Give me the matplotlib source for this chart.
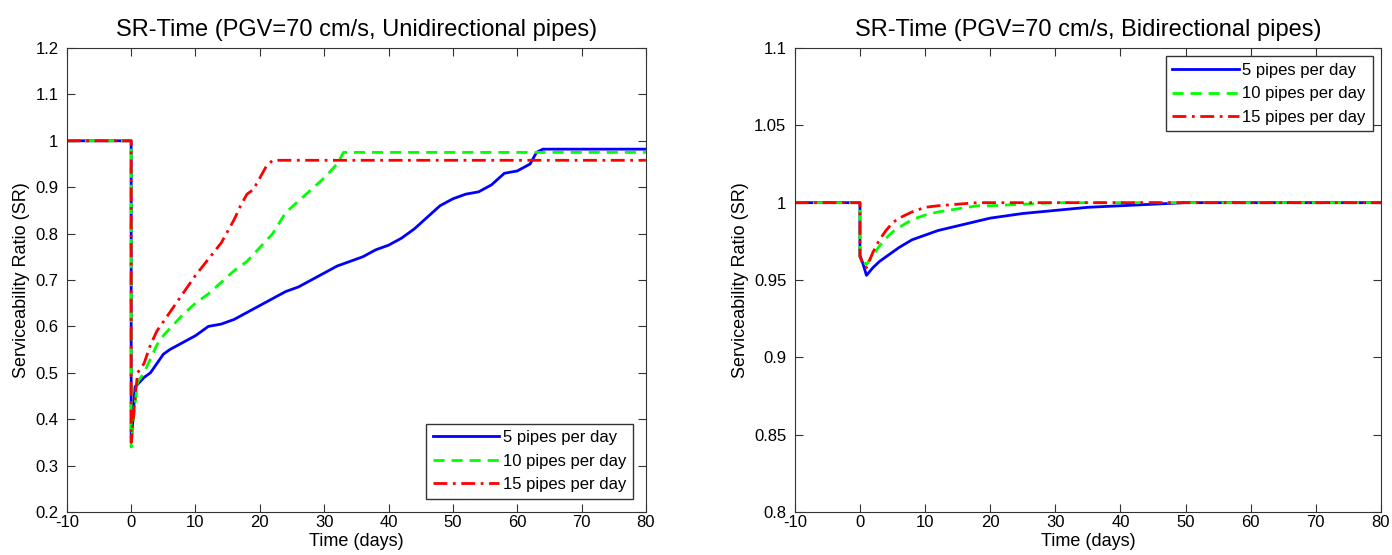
import matplotlib.pyplot as plt

plt.rcParams['font.family'] = ['Liberation Sans', 'DejaVu Sans']
plt.rcParams['axes.unicode_minus'] = False

# Unidirectional pipes
t_uni_5 = [-10, 0, 0, 0.3, 0.6, 1, 2, 3, 4, 5, 6, 8, 10, 12, 14, 16, 18, 20, 22, 24, 26, 28, 30,
           32, 34, 36, 38, 40, 42, 44, 46, 48, 50, 52, 54, 56, 58, 60, 62, 63, 64, 70, 80]
sr_uni_5 = [1, 1, 0.36, 0.40, 0.47, 0.475, 0.49, 0.50, 0.52, 0.54, 0.55, 0.565, 0.58, 0.60, 0.605,
            0.615, 0.63, 0.645, 0.66, 0.675, 0.685, 0.70, 0.715, 0.73, 0.74, 0.75, 0.765, 0.775,
            0.79, 0.81, 0.835, 0.86, 0.875, 0.885, 0.89, 0.905, 0.93, 0.935, 0.95, 0.975, 0.982, 0.982, 0.982]

t_uni_10 = [-10, 0, 0, 0.5, 1, 2, 3, 4, 5, 6, 8, 10, 12, 14, 16, 18, 20, 22, 24, 26, 28, 30, 32, 33, 40, 80]
sr_uni_10 = [1, 1, 0.34, 0.42, 0.48, 0.50, 0.53, 0.56, 0.58, 0.595, 0.625, 0.65, 0.67, 0.695, 0.72,
             0.74, 0.77, 0.80, 0.845, 0.87, 0.895, 0.92, 0.95, 0.975, 0.975, 0.975]

t_uni_15 = [-10, 0, 0, 0.5, 1, 2, 3, 4, 5, 6, 8, 10, 12, 14, 16, 17, 18, 19, 20, 21, 22, 30, 80]
sr_uni_15 = [1, 1, 0.35, 0.43, 0.50, 0.52, 0.56, 0.59, 0.61, 0.63, 0.67, 0.71, 0.745, 0.78, 0.83,
             0.86, 0.885, 0.895, 0.92, 0.945, 0.958, 0.958, 0.958]

# Bidirectional pipes
t_bi_5 = [-10, 0, 0, 0.5, 1, 2, 3, 4, 5, 6, 8, 10, 12, 15, 18, 20, 25, 30, 35, 40, 45, 50, 60, 80]
sr_bi_5 = [1, 1, 0.966, 0.960, 0.953, 0.958, 0.962, 0.965, 0.968, 0.971, 0.976, 0.979, 0.982, 0.985,
           0.988, 0.990, 0.993, 0.995, 0.997, 0.998, 0.999, 1.0, 1.0, 1.0]

t_bi_10 = [-10, 0, 0, 0.5, 1, 2, 3, 4, 5, 6, 8, 10, 12, 15, 18, 20, 25, 30, 40, 80]
sr_bi_10 = [1, 1, 0.965, 0.962, 0.960, 0.966, 0.972, 0.977, 0.981, 0.984, 0.989, 0.992, 0.994,
            0.996, 0.998, 0.998, 0.999, 1.0, 1.0, 1.0]

t_bi_15 = [-10, 0, 0, 0.5, 1, 2, 3, 4, 5, 6, 8, 10, 12, 15, 18, 20, 80]
sr_bi_15 = [1, 1, 0.965, 0.960, 0.958, 0.968, 0.976, 0.982, 0.987, 0.990, 0.994, 0.997, 0.998,
            0.999, 1.0, 1.0, 1.0]

labels = ['5 pipes per day', '10 pipes per day', '15 pipes per day']


def style_axes(ax, ylim, yticks, title):
    ax.set_xlim(-10, 80)
    ax.set_ylim(*ylim)
    ax.set_xticks(range(-10, 81, 10))
    ax.set_yticks(yticks)
    ax.set_yticklabels([f'{v:g}' for v in yticks])
    ax.tick_params(direction='in', top=True, right=True, labelsize=12, length=6, color='#333333')
    ax.tick_params(axis='x', pad=2)
    ax.tick_params(axis='y', pad=6)
    for s in ax.spines.values():
        s.set_color('#333333')
    ax.set_xlabel('Time (days)', fontsize=13, labelpad=2)
    ax.set_ylabel('Serviceability Ratio (SR)', fontsize=13, labelpad=4)
    ax.set_title(title, fontsize=17, pad=9)


fig = plt.figure(figsize=(13.92, 5.55), dpi=100)
ax1 = fig.add_axes([0.048, 0.0775, 0.416, 0.836])
ax2 = fig.add_axes([0.571, 0.0775, 0.421, 0.836])

ax1.plot(t_uni_5, sr_uni_5, color='#0000ff', lw=2, label=labels[0])
ax1.plot(t_uni_10, sr_uni_10, color='#00ff00', lw=2, ls=(0, (4, 2.5)), label=labels[1])
ax1.plot(t_uni_15, sr_uni_15, color='#ff0000', lw=2, ls=(0, (5, 2, 1, 2)), label=labels[2])
style_axes(ax1, (0.2, 1.2), [0.2, 0.3, 0.4, 0.5, 0.6, 0.7, 0.8, 0.9, 1.0, 1.1, 1.2],
           'SR-Time (PGV=70 cm/s, Unidirectional pipes)')
ax1.legend(loc='lower right', fontsize=12, fancybox=False, edgecolor='#333333',
           framealpha=1, handlelength=4, borderaxespad=0.8, handletextpad=0.2)

ax2.plot(t_bi_5, sr_bi_5, color='#0000ff', lw=2, label=labels[0])
ax2.plot(t_bi_10, sr_bi_10, color='#00ff00', lw=2, ls=(0, (4, 2.5)), label=labels[1])
ax2.plot(t_bi_15, sr_bi_15, color='#ff0000', lw=2, ls=(0, (5, 2, 1, 2)), label=labels[2])
style_axes(ax2, (0.8, 1.1), [0.8, 0.85, 0.9, 0.95, 1.0, 1.05, 1.1],
           'SR-Time (PGV=70 cm/s, Bidirectional pipes)')
ax2.legend(loc='upper right', fontsize=12, fancybox=False, edgecolor='#333333',
           framealpha=1, handlelength=4, borderaxespad=0.5, handletextpad=0.2)

fig.savefig('out.png', dpi=100)
